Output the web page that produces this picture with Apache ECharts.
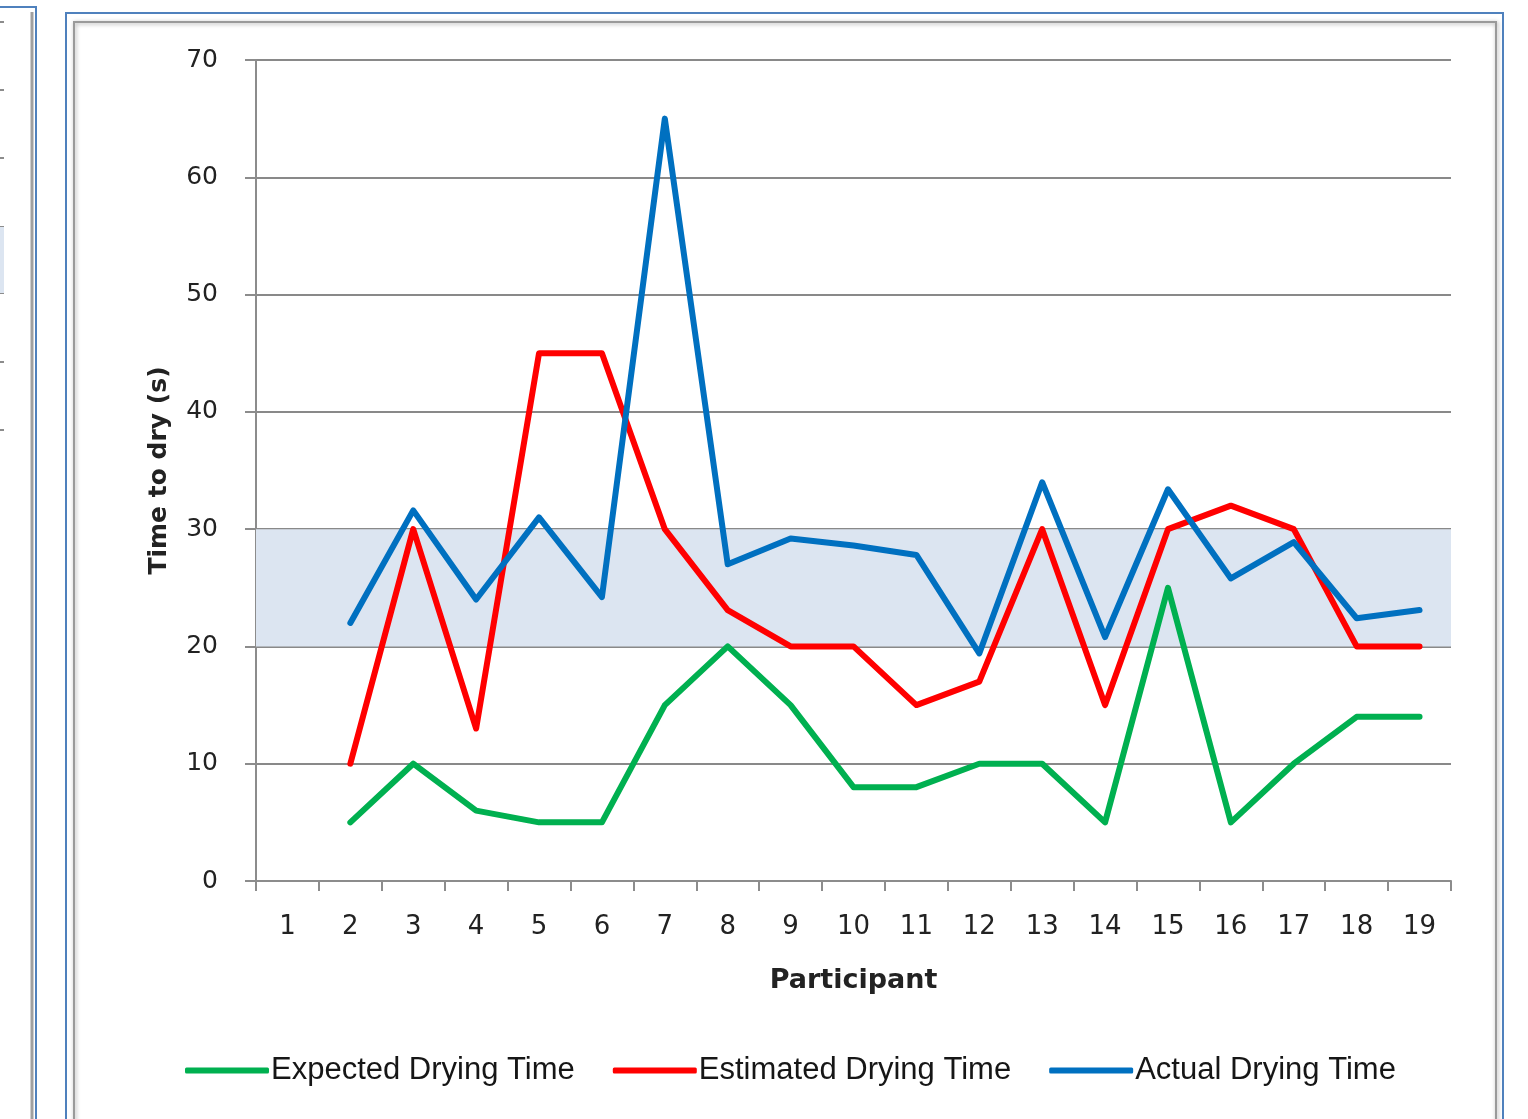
<!DOCTYPE html>
<html>
<head>
<meta charset="utf-8">
<style>
  html, body { margin: 0; padding: 0; background: #ffffff; }
  #chart { width: 1528px; height: 1119px; }
</style>
<script src="https://cdn.jsdelivr.net/npm/echarts@6/dist/echarts.min.js"></script>
</head>
<body>
<div id="chart"></div>
<script>
// Participants on the x axis
const participants = ['1','2','3','4','5','6','7','8','9','10','11','12','13','14','15','16','17','18','19'];

// Drying times in seconds (participant 1 has no recorded values)
const expectedTime  = [null, 5, 10, 6, 5, 5, 15, 20, 15, 8, 8, 10, 10, 5, 25, 5, 10, 14, 14];
const estimatedTime = [null, 10, 30, 13, 45, 45, 30, 23.1, 20, 20, 15, 17, 30, 15, 30, 32, 30, 20, 20];
const actualTime    = [null, 22, 31.6, 24, 31, 24.2, 65, 27, 29.2, 28.6, 27.8, 19.4, 34, 20.8, 33.4, 25.8, 28.9, 22.4, 23.1];

// Reference band (seconds)
const bandRange = [20, 30];

const seriesNames = ['Expected Drying Time', 'Estimated Drying Time', 'Actual Drying Time'];
const seriesColors = ['#00b050', '#ff0000', '#0070c0'];

const chart = echarts.init(document.getElementById('chart'), null, { renderer: 'canvas' });

const labelFont = 'DejaVu Sans, Verdana, sans-serif';

function lineSeries(name, data, color) {
  return {
    name: name,
    type: 'line',
    data: data,
    symbol: 'none',
    smooth: false,
    connectNulls: false,
    lineStyle: { color: color, width: 6, join: 'round', cap: 'round' },
    itemStyle: { color: color },
    z: 3
  };
}

const option = {
  animation: false,
  backgroundColor: '#ffffff',
  grid: { left: 256, right: 77, top: 60, bottom: 238, containLabel: false },
  legend: {
    bottom: 28,
    left: 180,
    itemWidth: 84,
    itemHeight: 6,
    itemGap: 38,
    icon: 'roundRect',
    textStyle: {
      fontFamily: 'Liberation Sans, Arial, sans-serif',
      fontSize: 31,
      color: '#161616',
      padding: [0, 0, 0, -3]
    },
    data: seriesNames
  },
  xAxis: {
    type: 'category',
    data: participants,
    boundaryGap: true,
    name: 'Participant',
    nameLocation: 'middle',
    nameGap: 86,
    nameTextStyle: { fontFamily: labelFont, fontWeight: 'bold', fontSize: 27, color: '#222' },
    axisLine: { lineStyle: { color: '#8c8c8c', width: 2 } },
    axisTick: { show: true, length: 10, lineStyle: { color: '#8c8c8c', width: 2 } },
    axisLabel: { fontFamily: labelFont, fontSize: 26, color: '#222', margin: 33 },
    splitLine: { show: false }
  },
  yAxis: {
    type: 'value',
    min: 0,
    max: 70,
    interval: 10,
    name: 'Time to dry (s)',
    nameLocation: 'middle',
    nameGap: 84,
    nameRotate: 90,
    nameTextStyle: { fontFamily: labelFont, fontWeight: 'bold', fontSize: 25, color: '#222' },
    axisLine: { show: true, lineStyle: { color: '#8c8c8c', width: 2 } },
    axisTick: { show: true, length: 11, lineStyle: { color: '#8c8c8c', width: 2 } },
    axisLabel: { fontFamily: labelFont, fontSize: 25, color: '#222', margin: 38 },
    splitLine: { show: true, lineStyle: { color: '#898989', width: 2 } }
  },
  series: [
    // shaded band between 20 s and 30 s, kept beneath the grid lines
    {
      type: 'line',
      data: [],
      z: -1,
      silent: true,
      markArea: {
        silent: true,
        itemStyle: { color: '#dce5f1', borderWidth: 0 },
        data: [[{ yAxis: bandRange[0] }, { yAxis: bandRange[1] }]]
      }
    },
    lineSeries(seriesNames[0], expectedTime, seriesColors[0]),
    lineSeries(seriesNames[1], estimatedTime, seriesColors[1]),
    lineSeries(seriesNames[2], actualTime, seriesColors[2])
  ],
  graphic: [
    // neighbouring panel at the left edge
    { type: 'rect', shape: { x: -10, y: 7, width: 46, height: 1130 },
      style: { fill: 'none', stroke: '#4f81bd', lineWidth: 2 }, z: 10, silent: true },
    { type: 'line', shape: { x1: 32, y1: 12, x2: 32, y2: 1125 },
      style: { stroke: '#a0a0a0', lineWidth: 3 }, z: 10, silent: true },
    { type: 'rect', shape: { x: 0, y: 227, width: 4, height: 66 },
      style: { fill: '#dce5f1' }, z: 9, silent: true },
    { type: 'group', z: 10, silent: true, children: [22, 90, 158, 227, 293, 362, 430].map(function (y) {
      return { type: 'line', shape: { x1: 0, y1: y, x2: 4, y2: y }, style: { stroke: '#8c8c8c', lineWidth: 2 } };
    }) },
    // chart frame
    { type: 'rect', shape: { x: 66, y: 13, width: 1437, height: 1130 },
      style: { fill: 'none', stroke: '#4f81bd', lineWidth: 2 }, z: 10, silent: true },
    { type: 'rect', shape: { x: 74, y: 22, width: 1422, height: 1120 },
      style: { fill: 'none', stroke: '#9a9a9a', lineWidth: 2, shadowBlur: 4, shadowColor: 'rgba(0,0,0,0.35)', shadowOffsetX: 1, shadowOffsetY: 1 },
      z: 10, silent: true }
  ]
};

chart.setOption(option);
</script>
</body>
</html>
